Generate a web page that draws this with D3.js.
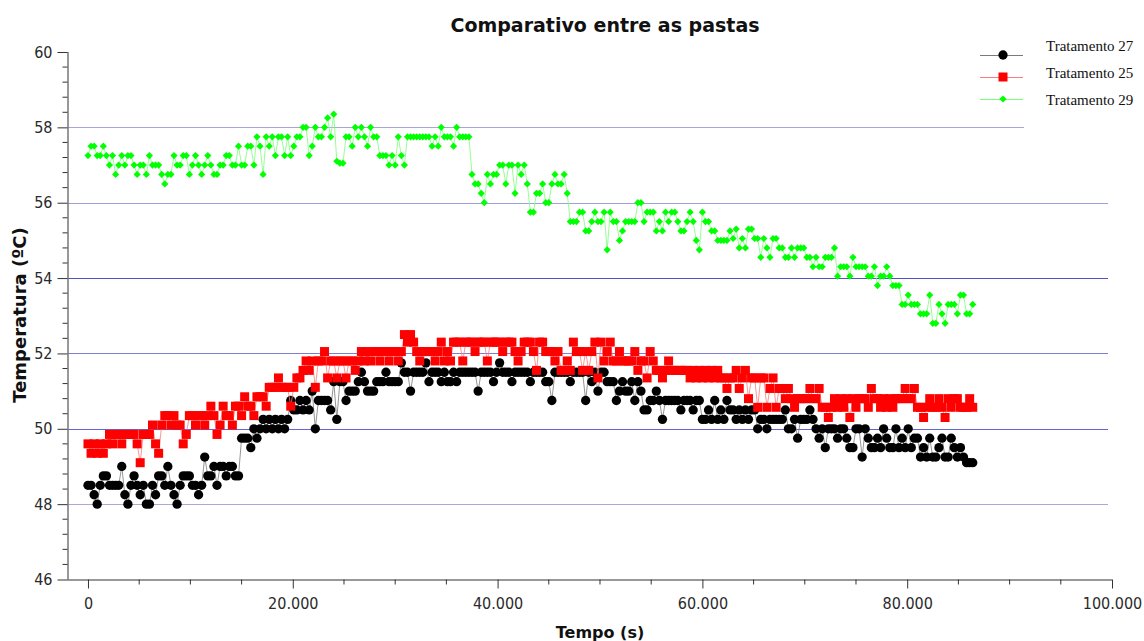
<!DOCTYPE html>
<html>
<head>
<meta charset="utf-8">
<script src="https://cdn.jsdelivr.net/npm/d3@7"></script>
<style>
  body { margin: 0; background: #fff; }
  svg { display: block; }
</style>
</head>
<body>
<svg id="chart" width="1144" height="641"></svg>
<script>
// ---- Data -------------------------------------------------------------
const chartTitle = "Comparativo entre as pastas";
const xTitle = "Tempo (s)";
const yTitle = "Temperatura (ºC)";
const seriesNames = ["Tratamento 27", "Tratamento 25", "Tratamento 29"];

// readings were logged every 300 s, starting at t = 0
const sampleStep = 300;

// Tratamento 27 (ºC)
const trat27 = [
  48.5,48.5,48.25,48.0,48.5,48.75,48.75,48.5,48.5,48.5,
  48.5,49.0,48.25,48.0,48.5,48.75,48.5,48.25,48.5,48.0,
  48.0,48.5,48.25,48.75,48.75,48.5,49.0,48.5,48.25,48.0,
  48.5,48.75,48.75,48.75,48.5,48.5,48.25,48.5,49.25,48.75,
  48.75,49.0,48.5,49.0,49.0,48.75,49.0,49.0,48.75,48.75,
  49.75,49.75,49.75,49.5,50.0,49.75,50.0,50.25,50.0,50.25,
  50.0,50.25,50.0,50.25,50.0,50.25,50.75,50.5,50.5,50.75,
  50.5,50.75,50.5,51.0,50.0,50.75,50.75,50.75,50.75,50.5,
  51.25,50.25,51.25,51.25,50.75,51.0,51.0,51.0,51.25,51.5,
  51.25,51.0,51.0,51.0,51.25,51.25,51.25,51.5,51.25,51.25,
  51.25,51.25,51.75,51.5,51.5,51.0,51.5,51.5,51.5,51.5,
  51.75,51.25,51.5,51.5,51.5,51.25,51.5,51.25,51.25,51.5,
  51.25,51.5,51.5,51.5,51.5,51.5,51.5,51.0,51.5,51.5,
  51.5,51.5,51.25,51.5,51.75,51.5,51.5,51.5,51.25,51.5,
  51.5,51.5,51.5,51.5,51.25,51.5,51.5,51.5,51.5,51.25,
  51.25,50.75,51.5,51.5,51.5,51.5,51.5,51.25,51.5,51.5,
  51.5,51.5,50.75,51.5,51.25,51.5,51.0,51.5,51.5,51.25,
  51.25,51.25,50.75,51.0,51.25,51.0,51.0,51.25,50.75,51.25,
  51.0,50.5,50.5,50.75,50.75,51.0,50.75,50.25,50.75,50.75,
  50.75,50.75,50.75,50.5,50.75,50.75,50.75,50.5,50.75,50.75,
  50.25,50.25,50.5,50.25,50.75,50.25,50.5,50.25,50.75,50.5,
  50.5,50.25,50.5,50.25,50.5,50.25,50.5,50.5,50.0,50.25,
  50.25,50.0,50.25,50.25,50.25,50.25,50.25,50.5,50.0,50.0,
  50.25,49.75,50.25,50.25,50.25,50.5,50.25,50.0,49.75,50.0,
  49.5,50.0,50.0,50.0,49.75,50.0,50.0,49.75,49.5,49.5,
  50.0,50.0,49.25,50.0,49.75,49.5,49.5,49.75,49.5,50.0,
  49.75,49.5,49.5,50.0,49.5,49.75,49.5,50.0,49.5,49.75,
  49.75,49.25,49.5,49.25,49.75,49.25,49.25,49.5,49.75,49.25,
  49.25,49.75,49.5,49.25,49.5,49.25,49.1,49.1,49.1
];

// Tratamento 25 (ºC)
const trat25 = [
  49.6,49.35,49.6,49.35,49.6,49.35,49.6,49.85,49.6,49.85,
  49.85,49.6,49.85,49.85,49.85,49.85,49.6,49.1,49.85,49.85,
  49.85,50.1,49.6,49.35,50.1,50.35,50.35,50.1,50.35,50.1,
  50.1,49.6,49.85,50.35,50.35,50.1,50.35,50.35,50.1,50.35,
  50.6,50.35,49.85,50.1,50.6,50.35,50.35,50.1,50.6,50.6,
  50.35,50.85,50.6,50.6,50.35,50.85,50.85,50.85,50.6,51.1,
  51.1,51.1,51.35,51.1,51.1,51.1,50.6,51.1,51.35,51.35,
  51.55,51.8,51.55,51.8,51.1,51.8,51.8,52.05,51.35,51.8,
  51.8,51.35,51.8,51.8,51.35,51.8,51.8,51.55,51.8,52.05,
  51.8,52.05,51.8,52.05,52.05,51.8,52.05,52.05,51.8,52.05,
  52.05,51.8,52.05,52.5,52.3,52.5,52.3,52.05,51.8,52.05,
  52.05,52.05,52.05,51.8,52.05,52.3,51.8,52.05,51.8,52.3,
  52.3,52.3,51.8,52.3,52.3,52.3,52.05,52.3,52.3,52.3,
  51.8,52.3,52.3,52.3,52.3,52.05,52.3,52.3,52.3,52.05,
  51.8,52.05,52.3,52.3,52.3,52.05,51.55,52.3,52.3,52.05,
  52.05,52.05,51.8,52.05,51.55,51.55,51.8,51.55,52.3,52.05,
  52.05,51.55,52.05,51.55,52.05,52.3,51.35,52.3,51.8,52.05,
  52.3,51.8,51.8,52.05,51.8,51.8,51.8,51.8,52.05,51.55,
  51.8,51.8,51.35,52.05,51.8,51.55,51.55,51.35,51.55,51.8,
  51.55,51.55,51.55,51.55,51.55,51.55,51.35,51.55,51.35,51.55,
  51.35,51.55,51.35,51.55,51.35,51.55,51.35,51.35,51.07,51.35,
  51.35,51.55,51.07,51.35,51.55,50.8,51.35,51.35,50.57,51.35,
  51.35,50.57,51.07,51.35,50.57,51.07,51.07,50.8,51.07,50.8,
  50.57,50.8,50.8,50.8,50.8,51.07,50.8,50.8,51.07,50.57,
  50.57,50.3,50.57,50.8,50.57,50.8,50.57,50.8,50.3,50.8,
  50.57,50.8,50.8,50.8,50.57,51.07,50.8,50.8,50.57,50.8,
  50.57,50.8,50.57,50.8,50.8,50.8,51.07,50.8,50.8,51.07,
  50.57,50.57,50.3,50.57,50.8,50.57,50.57,50.8,50.57,50.3,
  50.8,50.57,50.8,50.8,50.57,50.57,50.57,50.8,50.57
];

// Tratamento 29 (ºC)
const trat29 = [
  57.25,57.5,57.5,57.25,57.25,57.5,57.25,57.0,57.25,56.75,
  57.0,57.25,57.0,57.25,57.25,57.0,56.75,57.0,57.0,56.75,
  57.25,57.0,57.0,57.0,56.75,56.5,56.75,56.75,57.25,57.0,
  57.0,57.25,57.25,56.75,57.0,57.25,57.0,56.75,57.0,57.25,
  57.0,56.75,56.75,57.0,57.0,57.25,57.25,57.0,57.0,57.5,
  57.0,57.0,57.5,57.5,57.0,57.75,57.5,56.75,57.75,57.5,
  57.75,57.25,57.75,57.75,57.25,57.75,57.25,57.5,57.75,57.75,
  58.0,58.0,57.25,57.5,58.0,57.75,57.75,58.0,58.25,57.75,
  58.35,57.1,57.05,57.05,57.75,57.75,57.5,58.0,57.75,58.0,
  57.75,57.5,58.0,57.75,57.75,57.25,57.25,57.25,57.0,57.25,
  57.0,57.75,57.25,57.0,57.75,57.75,57.75,57.75,57.75,57.75,
  57.75,57.75,57.5,57.75,57.5,58.0,57.75,57.75,57.75,57.5,
  58.0,57.75,57.75,57.75,57.75,56.75,56.5,56.5,56.25,56.0,
  56.75,56.5,56.75,56.75,57.0,57.0,56.5,57.0,57.0,56.25,
  57.0,56.75,57.0,56.5,55.75,55.75,56.25,56.25,56.5,56.0,
  56.0,56.5,56.75,56.5,56.5,56.75,56.25,55.5,55.5,55.5,
  55.75,55.75,55.25,55.25,55.5,55.75,55.5,55.5,55.75,54.75,
  55.75,55.5,55.5,55.0,55.25,55.5,55.5,55.5,55.5,56.0,
  56.0,55.5,55.75,55.75,55.75,55.25,55.5,55.25,55.75,55.5,
  55.75,55.75,55.5,55.25,55.25,55.5,55.75,55.5,55.0,54.75,
  55.75,55.5,55.5,55.25,55.25,55.0,55.0,55.0,55.0,55.25,
  55.05,55.3,54.8,55.05,54.8,55.3,55.3,55.05,55.05,54.55,
  55.05,54.8,54.55,55.05,55.05,54.8,54.8,54.55,54.55,54.8,
  54.55,54.8,54.8,54.8,54.55,54.55,54.3,54.55,54.3,54.3,
  54.55,54.55,54.55,54.8,54.05,54.3,54.3,54.3,54.05,54.55,
  54.3,54.3,54.3,54.3,54.05,54.05,54.3,53.8,54.05,54.05,
  54.3,54.05,53.8,53.8,53.8,53.3,53.3,53.55,53.3,53.3,
  53.3,53.05,53.05,53.05,53.55,52.8,52.8,53.3,53.05,52.8,
  53.3,53.3,53.3,53.05,53.55,53.55,53.05,53.05,53.3
];

const xTickValues = [0, 20000, 40000, 60000, 80000, 100000];
const yTickValues = [46, 48, 50, 52, 54, 56, 58, 60];
const gridValues = [48, 50, 52, 54, 56, 58];

// ---- Layout ----------------------------------------------------------
const W = 1144, H = 641;
const plot = { left: 67.5, right: 1112, top: 52, bottom: 579.5 };

const svg = d3.select("#chart");
svg.append("rect").attr("width", W).attr("height", H).attr("fill", "#fff");

const x = d3.scaleLinear().domain([-2000, 100000]).range([plot.left, plot.right]);
const y = d3.scaleLinear().domain([46, 60]).range([plot.bottom, plot.top]);

const ptBR = d3.formatLocale({ decimal: ",", thousands: ".", grouping: [3], currency: ["", ""] });
const fmtX = ptBR.format(",");

const tickFont = "'DejaVu Sans Condensed', 'DejaVu Sans', sans-serif";
const boldFont = "'DejaVu Sans', sans-serif";

// horizontal grid lines
const gridColor = { 48: "#a9a9dc", 50: "#6464d6", 52: "#7d7dd2", 54: "#5050c8", 56: "#a0a0dc", 58: "#a6a6dc" };
svg.append("g").selectAll("line").data(gridValues).join("line")
  .attr("x1", plot.left + 1).attr("x2", plot.right - 4)
  .attr("y1", d => Math.round(y(d)) + 0.5).attr("y2", d => Math.round(y(d)) + 0.5)
  .attr("stroke", d => gridColor[d]).attr("stroke-width", 1);

// ---- Axes ------------------------------------------------------------
const yAxis = d3.axisLeft(y).tickValues(yTickValues).tickSize(10).tickPadding(5)
  .tickFormat(d3.format("d"));
const gy = svg.append("g").attr("transform", `translate(${plot.left},0)`).call(yAxis);
gy.select(".domain").attr("stroke", "#333").attr("d", `M0.5,${plot.top}V${plot.bottom}`);
gy.selectAll(".tick line").attr("stroke", "#333");
gy.selectAll(".tick text").attr("font-family", tickFont).attr("font-size", 16).attr("fill", "#2a2a2a");
// minor ticks on y
const yMinor = d3.range(46, 60.001, 0.4).filter(v => Math.abs(v - Math.round(v / 2) * 2) > 0.01);
gy.append("g").selectAll("line").data(yMinor).join("line")
  .attr("x1", -5).attr("x2", 0).attr("y1", d => y(d)).attr("y2", d => y(d)).attr("stroke", "#333");

const xAxis = d3.axisBottom(x).tickValues(xTickValues).tickSize(9).tickPadding(9)
  .tickFormat(fmtX);
const gx = svg.append("g").attr("transform", `translate(0,${plot.bottom})`).call(xAxis);
gx.select(".domain").attr("stroke", "#333").attr("d", `M${plot.left},0.5H${plot.right}`);
gx.selectAll(".tick line").attr("stroke", "#333");
gx.selectAll(".tick text").attr("font-family", tickFont).attr("font-size", 16).attr("fill", "#2a2a2a");
const xMinor = d3.range(5000, 100000, 5000).filter(v => v % 20000 !== 0);
gx.append("g").selectAll("line").data(xMinor).join("line")
  .attr("x1", d => x(d)).attr("x2", d => x(d)).attr("y1", 0).attr("y2", 5).attr("stroke", "#333");

// ---- Titles ----------------------------------------------------------
svg.append("text").attr("x", 605).attr("y", 32).attr("text-anchor", "middle")
  .attr("font-family", boldFont).attr("font-weight", "bold").attr("font-size", 19)
  .attr("fill", "#111").text(chartTitle);
svg.append("text").attr("x", 600).attr("y", 638).attr("text-anchor", "middle")
  .attr("font-family", boldFont).attr("font-weight", "bold").attr("font-size", 16)
  .attr("fill", "#111").text(xTitle);
svg.append("text").attr("transform", "translate(26,315) rotate(-90)").attr("text-anchor", "middle")
  .attr("font-family", boldFont).attr("font-weight", "bold").attr("font-size", 18)
  .attr("fill", "#111").text(yTitle);

// ---- Series ----------------------------------------------------------
const markerPath = {
  circle: d3.symbol(d3.symbolCircle, 68)(),
  square: "M-4.5,-4.5H4.5V4.5H-4.5Z",
  diamond: "M0,-3.6L3.6,0L0,3.6L-3.6,0Z"
};
const series = [
  { name: seriesNames[0], values: trat27, fill: "#000000", line: "#7a7a7a", shape: "circle" },
  { name: seriesNames[1], values: trat25, fill: "#ff0000", line: "#ff7a7a", shape: "square" },
  { name: seriesNames[2], values: trat29, fill: "#00ff00", line: "#7aff7a", shape: "diamond" }
];

const lineGen = d3.line().x((d, i) => x(i * sampleStep)).y(d => y(d));

series.forEach(s => {
  const g = svg.append("g");
  g.append("path").datum(s.values).attr("d", lineGen)
    .attr("fill", "none").attr("stroke", s.line).attr("stroke-width", 0.8);
  g.selectAll("path.m").data(s.values).join("path").attr("class", "m")
    .attr("d", markerPath[s.shape])
    .attr("transform", (d, i) => `translate(${x(i * sampleStep)},${y(d)})`)
    .attr("fill", s.fill);
});

// ---- Legend ----------------------------------------------------------
svg.append("rect").attr("x", 1024).attr("y", 30).attr("width", 120).attr("height", 100).attr("fill", "#fff");
const legendMarkY = [55, 77, 99];
const legendTextY = [51, 78, 105];
const lg = svg.append("g");
series.forEach((s, i) => {
  lg.append("line").attr("x1", 980).attr("x2", 1023)
    .attr("y1", legendMarkY[i] + 0.5).attr("y2", legendMarkY[i] + 0.5)
    .attr("stroke", s.line).attr("stroke-width", 1);
  lg.append("path").attr("d", markerPath[s.shape])
    .attr("transform", `translate(1003,${legendMarkY[i]})`).attr("fill", s.fill);
  lg.append("text").attr("x", 1046).attr("y", legendTextY[i])
    .attr("font-family", "'Liberation Serif', 'Times New Roman', serif").attr("font-size", 15)
    .attr("fill", "#111").text(s.name);
});
</script>
</body>
</html>
